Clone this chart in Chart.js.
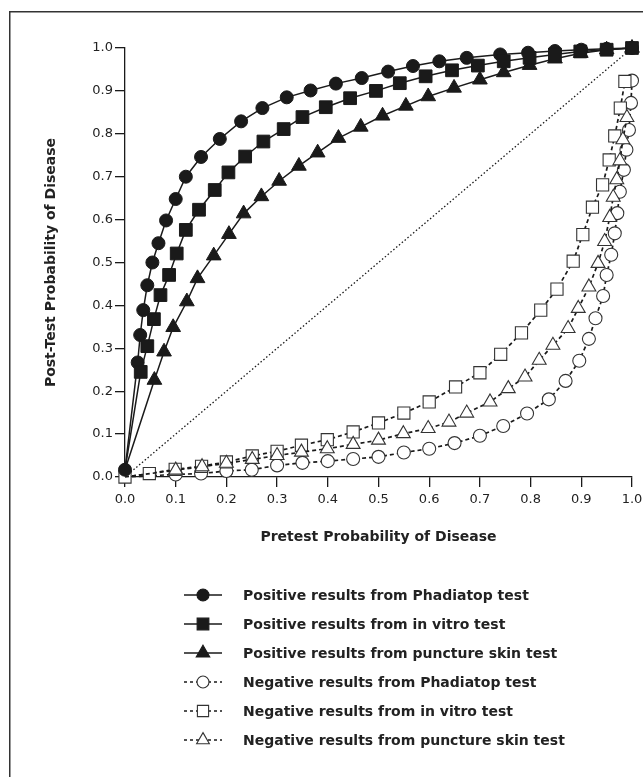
<!DOCTYPE html>
<html>
<head>
<meta charset="utf-8">
<title>Post-test probability</title>
<script src="https://cdn.jsdelivr.net/npm/chart.js@4.4.1/dist/chart.umd.min.js"></script>
<style>
  html, body { margin: 0; padding: 0; background: #fff; }
  body { width: 643px; height: 777px; overflow: hidden; }
  canvas { display: block; }
</style>
</head>
<body>
<canvas id="chart" width="643" height="777"></canvas>
<script>
// values (pretest probability -> post-test probability)
const posPhadX = [0, 0.025, 0.030, 0.036, 0.044, 0.054, 0.066, 0.081, 0.100, 0.120, 0.150, 0.187, 0.229, 0.271, 0.319, 0.366, 0.416, 0.467, 0.519, 0.568, 0.620, 0.674, 0.740, 0.795, 0.848, 0.900, 0.950, 1.0];
const posPhadY = [0.017, 0.267, 0.331, 0.389, 0.447, 0.500, 0.545, 0.598, 0.648, 0.700, 0.746, 0.788, 0.829, 0.860, 0.885, 0.901, 0.917, 0.930, 0.945, 0.958, 0.969, 0.977, 0.985, 0.989, 0.993, 0.996, 0.998, 1.0];

const posVitroX = [0, 0.031, 0.044, 0.057, 0.070, 0.087, 0.102, 0.120, 0.146, 0.177, 0.204, 0.237, 0.273, 0.313, 0.350, 0.396, 0.444, 0.495, 0.542, 0.593, 0.645, 0.696, 0.747, 0.798, 0.848, 0.898, 0.950, 1.0];
const posVitroY = [0.017, 0.245, 0.305, 0.368, 0.424, 0.471, 0.521, 0.576, 0.623, 0.669, 0.710, 0.747, 0.782, 0.811, 0.839, 0.862, 0.883, 0.900, 0.918, 0.934, 0.948, 0.959, 0.969, 0.977, 0.985, 0.992, 0.996, 1.0];

const posSkinX = [0, 0.058, 0.077, 0.095, 0.122, 0.143, 0.175, 0.205, 0.234, 0.269, 0.304, 0.343, 0.380, 0.421, 0.465, 0.508, 0.554, 0.598, 0.649, 0.700, 0.747, 0.798, 0.848, 0.899, 0.950, 1.0];
const posSkinY = [0.017, 0.226, 0.292, 0.349, 0.409, 0.463, 0.516, 0.566, 0.614, 0.654, 0.690, 0.725, 0.756, 0.790, 0.816, 0.842, 0.865, 0.887, 0.907, 0.926, 0.943, 0.960, 0.975, 0.988, 0.996, 1.0];

const negPhadX = [0, 0.1, 0.15, 0.2, 0.25, 0.3, 0.35, 0.4, 0.45, 0.5, 0.55, 0.6, 0.65, 0.7, 0.746, 0.793, 0.836, 0.869, 0.896, 0.915, 0.928, 0.943, 0.950, 0.959, 0.966, 0.971, 0.976, 0.984, 0.989, 0.994, 0.998, 1.0];
const negPhadY = [0, 0.006, 0.008, 0.014, 0.017, 0.027, 0.033, 0.037, 0.042, 0.047, 0.057, 0.066, 0.079, 0.096, 0.119, 0.148, 0.181, 0.224, 0.271, 0.322, 0.370, 0.422, 0.471, 0.518, 0.568, 0.615, 0.665, 0.716, 0.763, 0.809, 0.872, 0.924];

const negVitroX = [0, 0.048, 0.099, 0.151, 0.2, 0.251, 0.3, 0.348, 0.399, 0.45, 0.5, 0.55, 0.6, 0.652, 0.700, 0.741, 0.782, 0.820, 0.852, 0.884, 0.903, 0.922, 0.942, 0.955, 0.966, 0.977, 0.986];
const negVitroY = [0, 0.008, 0.018, 0.025, 0.035, 0.049, 0.060, 0.074, 0.087, 0.105, 0.126, 0.149, 0.175, 0.210, 0.243, 0.286, 0.336, 0.389, 0.438, 0.503, 0.565, 0.629, 0.681, 0.739, 0.795, 0.860, 0.922];

const negSkinX = [0, 0.1, 0.152, 0.2, 0.251, 0.3, 0.348, 0.399, 0.45, 0.5, 0.549, 0.598, 0.639, 0.674, 0.720, 0.756, 0.789, 0.817, 0.844, 0.874, 0.894, 0.915, 0.933, 0.946, 0.956, 0.963, 0.970, 0.976, 0.982, 0.990];
const negSkinY = [0, 0.016, 0.024, 0.032, 0.041, 0.050, 0.058, 0.066, 0.076, 0.086, 0.101, 0.113, 0.128, 0.149, 0.175, 0.206, 0.233, 0.272, 0.307, 0.346, 0.393, 0.443, 0.498, 0.549, 0.605, 0.652, 0.693, 0.737, 0.786, 0.838];

// line of identity
const diagX = [0, 1];
const diagY = [0, 1];

const seriesNames = [
    'Positive results from Phadiatop test',
    'Positive results from in vitro test',
    'Positive results from puncture skin test',
    'Negative results from Phadiatop test',
    'Negative results from in vitro test',
    'Negative results from puncture skin test'
];

const INK = '#1a1a1a';
const FONT = "'DejaVu Sans', 'Noto Sans', sans-serif";

const pts = (xs, ys) => xs.map((x, i) => ({ x: x, y: ys[i] }));

// legend order; `order` decides what sits on top in the plot (lower = on top)
const series = [
    { name: seriesNames[0], xs: posPhadX, ys: posPhadY, style: 'circle', r: 6.5, open: false, order: 1, hideFirst: false },
    { name: seriesNames[1], xs: posVitroX, ys: posVitroY, style: 'rect', r: 9, open: false, order: 0, hideFirst: true },
    { name: seriesNames[2], xs: posSkinX, ys: posSkinY, style: 'triangle', r: 8.5, open: false, order: 2, hideFirst: true },
    { name: seriesNames[3], xs: negPhadX, ys: negPhadY, style: 'circle', r: 6.5, open: true, order: 5, hideFirst: true },
    { name: seriesNames[4], xs: negVitroX, ys: negVitroY, style: 'rect', r: 8.6, open: true, order: 4, hideFirst: false },
    { name: seriesNames[5], xs: negSkinX, ys: negSkinY, style: 'triangle', r: 8, open: true, order: 3, hideFirst: true }
];

const datasets = series.map(s => ({
    label: s.name,
    data: pts(s.xs, s.ys),
    showLine: true,
    tension: 0,
    clip: false,
    order: s.order,
    borderColor: INK,
    borderWidth: s.open ? 1.7 : 1.5,
    borderDash: s.open ? [4, 3] : [],
    pointStyle: s.style,
    pointRadius: c => (s.hideFirst && c.dataIndex === 0) ? 0 : s.r,
    pointBackgroundColor: s.open ? '#fff' : INK,
    pointBorderColor: s.open ? '#333' : INK,
    pointBorderWidth: s.open ? 1.1 : 1
}));

datasets.push({
    label: 'identity',
    data: pts(diagX, diagY),
    showLine: true,
    clip: false,
    order: 9,
    borderColor: INK,
    borderWidth: 1.3,
    borderDash: [1.5, 2.2],
    pointRadius: 0
});

const framePlugin = {
    id: 'frame',
    beforeDraw(chart) {
        const ctx = chart.ctx;
        ctx.save();
        ctx.fillStyle = '#fff';
        ctx.fillRect(0, 0, chart.width, chart.height);
        ctx.strokeStyle = '#333';
        ctx.lineWidth = 1.5;
        ctx.strokeRect(9.75, 11.75, 700, 800);
        ctx.restore();
    }
};

const legendPlugin = {
    id: 'stackLegend',
    afterDraw(chart) {
        const ctx = chart.ctx;
        const top = 595, gap = 29, lineL = 184, lineR = 222, mx = 203, tx = 243;
        series.forEach((s, i) => {
            const y = top + i * gap;
            ctx.save();
            ctx.strokeStyle = INK;
            ctx.lineWidth = 1.6;
            ctx.setLineDash(s.open ? [3, 3] : []);
            ctx.beginPath();
            ctx.moveTo(lineL, y);
            ctx.lineTo(lineR, y);
            ctx.stroke();
            ctx.setLineDash([]);
            ctx.fillStyle = s.open ? '#fff' : INK;
            ctx.strokeStyle = s.open ? '#333' : INK;
            ctx.lineWidth = 1.1;
            Chart.helpers.drawPoint(ctx, { pointStyle: s.style, radius: s.r * 0.92, rotation: 0, borderWidth: 1 }, mx, y);
            ctx.fillStyle = '#222';
            ctx.font = 'bold 14px ' + FONT;
            ctx.textBaseline = 'middle';
            ctx.fillText(s.name, tx, y + 1);
            ctx.restore();
        });
    }
};

// fixed axis boxes so the plot area lands where the figure has it
const fixBox = (w, h) => s => {
    if (w !== null) s.width = w;
    if (h !== null) s.height = h;
    s.paddingLeft = 0;
    s.paddingRight = 0;
    s.paddingTop = 0;
    s.paddingBottom = 0;
};

new Chart(document.getElementById('chart'), {
    type: 'scatter',
    data: { datasets: datasets },
    plugins: [framePlugin, legendPlugin],
    options: {
        responsive: false,
        animation: false,
        devicePixelRatio: 1,
        layout: { padding: { left: 0, top: 48, right: 11, bottom: 230 } },
        plugins: {
            legend: { display: false },
            tooltip: { enabled: false }
        },
        scales: {
            x: {
                type: 'linear',
                min: 0,
                max: 1,
                afterFit: fixBox(null, 70),
                border: { display: true, color: INK, width: 1.3 },
                grid: { drawOnChartArea: false, drawTicks: true, tickLength: 10, color: INK, lineWidth: 1.3 },
                ticks: {
                    stepSize: 0.1, autoSkip: false, maxRotation: 0, padding: 5,
                    color: '#222', font: { family: FONT, size: 13 },
                    callback: v => v.toFixed(1)
                },
                title: {
                    display: true, text: 'Pretest Probability of Disease', color: '#222',
                    font: { family: FONT, size: 14, weight: 'bold' }, padding: { top: 0, bottom: 1.5 }
                }
            },
            y: {
                type: 'linear',
                min: 0,
                max: 1,
                afterFit: fixBox(125, null),
                border: { display: true, color: INK, width: 1.3 },
                grid: { drawOnChartArea: false, drawTicks: true, tickLength: 10, color: INK, lineWidth: 1.3 },
                ticks: {
                    stepSize: 0.1, padding: 2,
                    color: '#222', font: { family: FONT, size: 13 },
                    callback: v => v.toFixed(1)
                },
                title: {
                    display: true, text: 'Post-Test Probability of Disease', color: '#222',
                    font: { family: FONT, size: 14, weight: 'bold' }, padding: { top: 43, bottom: 0 }
                }
            }
        }
    }
});
</script>
</body>
</html>
